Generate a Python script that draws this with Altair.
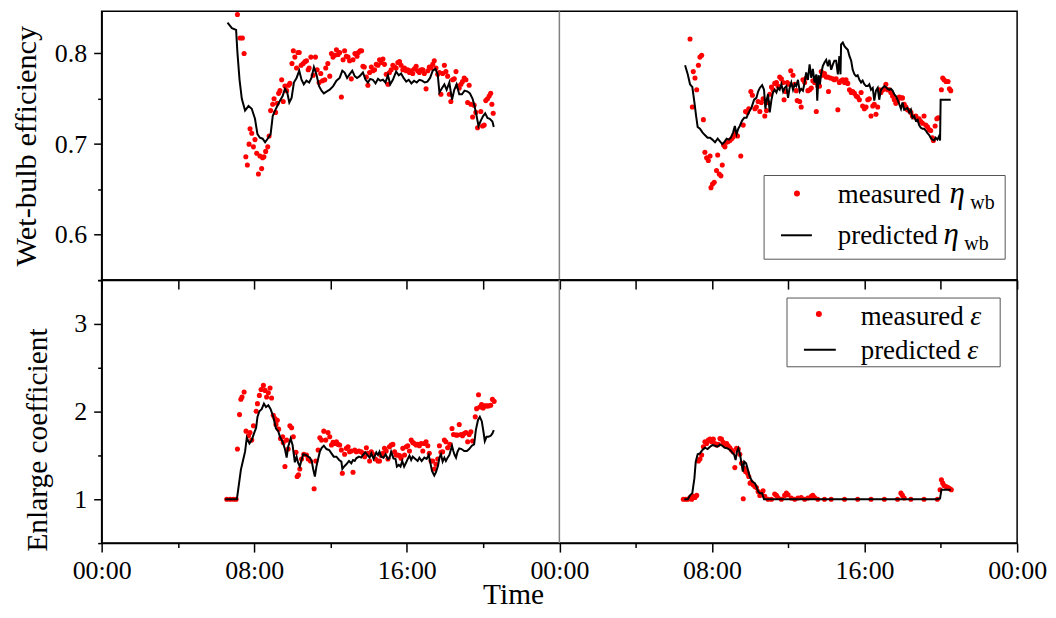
import altair as alt
import pandas as pd

FONT = "Liberation Serif"

# ---------------- data (time in hours from 00:00 of day 1) ----------------
# wet-bulb efficiency, measured, day 1
eta_meas_d1_t = [7.12, 7.26, 7.38, 7.47, 7.56, 7.64, 7.73, 7.78, 7.87, 7.96,
                 8.04, 8.13, 8.22, 8.30, 8.39, 8.44, 8.51, 8.60, 8.71, 8.78,
                 8.86, 8.97, 9.04, 9.12, 9.21, 9.28, 9.35, 9.44, 9.52, 9.61,
                 9.70, 9.80, 9.87, 9.98, 10.05, 10.13, 10.22, 10.29, 10.36, 10.46,
                 10.57, 10.66, 10.74, 10.83, 10.88, 10.97, 11.09, 11.21, 11.30, 11.40,
                 11.49, 11.58, 11.70, 11.75, 11.86, 11.96, 12.05, 12.13, 12.22, 12.31,
                 12.40, 12.48, 12.57, 12.66, 12.74, 12.83, 12.92, 13.00, 13.09, 13.18,
                 13.28, 13.39, 13.46, 13.55, 13.63, 13.70, 13.77, 13.88, 13.96, 14.05,
                 14.14, 14.22, 14.31, 14.40, 14.49, 14.57, 14.66, 14.75, 14.83, 14.92,
                 15.01, 15.09, 15.18, 15.27, 15.36, 15.44, 15.53, 15.62, 15.70, 15.79,
                 15.88, 15.97, 16.05, 16.14, 16.23, 16.31, 16.40, 16.49, 16.57, 16.66,
                 16.75, 16.84, 16.92, 17.01, 17.10, 17.18, 17.27, 17.36, 17.44, 17.53,
                 17.62, 17.71, 17.79, 17.88, 17.97, 18.05, 18.14, 18.23, 18.31, 18.40,
                 18.49, 18.58, 18.66, 18.75, 18.84, 18.92, 19.01, 19.10, 19.19, 19.27,
                 19.36, 19.45, 19.53, 19.62, 19.71, 19.88, 19.97, 20.06, 20.14, 20.23,
                 20.32, 20.40, 20.46, 20.53]
eta_meas_d1_v = [0.843, 0.817, 0.817, 0.800, 0.686, 0.677, 0.700, 0.717, 0.712, 0.697,
                 0.705, 0.690, 0.667, 0.687, 0.673, 0.685, 0.686, 0.692, 0.697, 0.709,
                 0.737, 0.744, 0.750, 0.735, 0.745, 0.756, 0.759, 0.771, 0.747, 0.764,
                 0.759, 0.765, 0.767, 0.789, 0.803, 0.796, 0.784, 0.801, 0.801, 0.787,
                 0.789, 0.791, 0.792, 0.782, 0.784, 0.796, 0.776, 0.796, 0.782, 0.768,
                 0.778, 0.770, 0.771, 0.784, 0.789, 0.775, 0.800, 0.796, 0.798, 0.804,
                 0.799, 0.801, 0.752, 0.793, 0.803, 0.797, 0.796, 0.792, 0.772, 0.793,
                 0.800, 0.797, 0.801, 0.803, 0.803, 0.786, 0.785, 0.774, 0.765, 0.779,
                 0.785, 0.781, 0.782, 0.788, 0.787, 0.793, 0.790, 0.794, 0.788, 0.777,
                 0.766, 0.779, 0.782, 0.787, 0.785, 0.784, 0.790, 0.791, 0.787, 0.782,
                 0.784, 0.781, 0.782, 0.779, 0.781, 0.778, 0.783, 0.786, 0.781, 0.779,
                 0.782, 0.782, 0.778, 0.761, 0.781, 0.785, 0.784, 0.788, 0.792, 0.784,
                 0.777, 0.779, 0.755, 0.778, 0.787, 0.780, 0.775, 0.755, 0.747, 0.771,
                 0.772, 0.780, 0.764, 0.762, 0.766, 0.769, 0.773, 0.771, 0.746, 0.765,
                 0.744, 0.730, 0.743, 0.735, 0.718, 0.736, 0.720, 0.721, 0.748, 0.750,
                 0.753, 0.756, 0.744, 0.734]

# wet-bulb efficiency, predicted, day 1
eta_pred_d1_t = [6.60, 6.83, 7.05, 7.12, 7.23, 7.35, 7.52, 7.70, 7.87, 8.04,
                 8.17, 8.30, 8.44, 8.57, 8.74, 8.86, 8.97, 9.09, 9.21, 9.35,
                 9.49, 9.61, 9.73, 9.84, 9.96, 10.08, 10.22, 10.36, 10.48, 10.60,
                 10.74, 10.88, 11.00, 11.13, 11.26, 11.40, 11.53, 11.65, 11.79, 11.96,
                 12.14, 12.31, 12.48, 12.62, 12.74, 12.87, 13.00, 13.14, 13.27, 13.39,
                 13.53, 13.70, 13.84, 13.96, 14.08, 14.22, 14.36, 14.49, 14.61, 14.75,
                 14.88, 15.01, 15.13, 15.27, 15.44, 15.58, 15.70, 15.83, 15.97, 16.10,
                 16.24, 16.38, 16.52, 16.66, 16.80, 16.94, 17.08, 17.22, 17.36, 17.50,
                 17.62, 17.71, 17.85, 17.97, 18.09, 18.23, 18.37, 18.49, 18.61, 18.75,
                 18.89, 19.03, 19.19, 19.31, 19.45, 19.55, 19.66, 19.76, 19.88, 20.00,
                 20.11, 20.23, 20.35, 20.49, 20.56]
eta_pred_d1_v = [0.834, 0.828, 0.826, 0.801, 0.771, 0.750, 0.737, 0.742, 0.739, 0.728,
                 0.711, 0.707, 0.706, 0.702, 0.707, 0.711, 0.731, 0.737, 0.742, 0.748,
                 0.753, 0.761, 0.757, 0.746, 0.751, 0.768, 0.773, 0.781, 0.771, 0.766,
                 0.770, 0.768, 0.773, 0.785, 0.777, 0.764, 0.759, 0.756, 0.758, 0.760,
                 0.764, 0.770, 0.773, 0.781, 0.779, 0.773, 0.777, 0.781, 0.775, 0.773,
                 0.775, 0.779, 0.771, 0.768, 0.772, 0.771, 0.767, 0.772, 0.770, 0.771,
                 0.768, 0.776, 0.766, 0.771, 0.780, 0.776, 0.778, 0.773, 0.769, 0.771,
                 0.767, 0.770, 0.768, 0.771, 0.770, 0.768, 0.769, 0.773, 0.781, 0.783,
                 0.777, 0.757, 0.762, 0.766, 0.760, 0.768, 0.749, 0.760, 0.766, 0.755,
                 0.755, 0.759, 0.758, 0.756, 0.750, 0.742, 0.731, 0.720, 0.726, 0.731,
                 0.734, 0.729, 0.728, 0.725, 0.719]

# wet-bulb efficiency, measured, day 2
eta_meas_d2_t = [30.85, 31.02, 31.11, 31.20, 31.29, 31.37, 31.46, 30.97, 31.55, 31.63,
                 31.72, 31.81, 31.90, 31.95, 32.03, 32.12, 32.24, 32.30, 32.38, 32.47,
                 32.54, 32.61, 32.68, 32.77, 32.85, 32.94, 33.03, 33.11, 33.24, 33.34,
                 33.51, 33.64, 33.76, 33.86, 33.93, 34.04, 34.12, 34.25, 34.33, 34.42,
                 34.51, 34.59, 34.68, 34.77, 34.86, 34.94, 35.03, 35.12, 35.20, 35.29,
                 35.38, 35.46, 35.55, 35.64, 35.73, 35.78, 35.85, 35.95, 36.02, 36.13,
                 36.25, 36.34, 36.42, 36.47, 36.60, 36.68, 36.77, 36.86, 36.94, 37.03,
                 37.12, 37.21, 37.29, 37.38, 37.47, 37.55, 37.64, 37.73, 37.81, 37.90,
                 37.99, 38.08, 38.11, 38.21, 38.34, 38.42, 38.51, 38.60, 38.68, 38.77,
                 38.86, 38.95, 39.03, 39.12, 39.21, 39.30, 39.38, 39.47, 39.56, 39.64,
                 39.73, 39.82, 39.90, 39.99, 40.08, 40.17, 40.25, 40.34, 40.43, 40.51,
                 40.60, 40.69, 40.77, 40.86, 40.95, 41.04, 41.12, 41.21, 41.30, 41.38,
                 41.47, 41.56, 41.64, 41.73, 41.82, 41.91, 41.99, 42.08, 42.17, 42.25,
                 42.34, 42.43, 42.51, 42.60, 42.69, 42.78, 42.86, 42.95, 43.04, 43.12,
                 43.21, 43.30, 43.39, 43.47, 43.56, 43.61, 43.70, 43.79, 43.86, 44.03,
                 44.10, 44.17, 44.27, 44.38, 44.45, 44.52]
eta_meas_d2_v = [0.816, 0.780, 0.773, 0.760, 0.787, 0.796, 0.798, 0.741, 0.727, 0.691,
                 0.685, 0.682, 0.687, 0.652, 0.656, 0.658, 0.671, 0.688, 0.667, 0.665,
                 0.677, 0.699, 0.697, 0.702, 0.703, 0.704, 0.706, 0.708, 0.712, 0.709,
                 0.687, 0.721, 0.736, 0.735, 0.739, 0.758, 0.754, 0.739, 0.741, 0.747,
                 0.736, 0.746, 0.750, 0.731, 0.737, 0.746, 0.755, 0.763, 0.760, 0.767,
                 0.768, 0.764, 0.774, 0.772, 0.768, 0.749, 0.758, 0.768, 0.766, 0.781,
                 0.776, 0.766, 0.759, 0.748, 0.747, 0.741, 0.771, 0.768, 0.773, 0.759,
                 0.760, 0.762, 0.770, 0.768, 0.736, 0.764, 0.764, 0.780, 0.776, 0.778,
                 0.774, 0.774, 0.758, 0.773, 0.772, 0.771, 0.772, 0.738, 0.768, 0.770,
                 0.771, 0.768, 0.771, 0.767, 0.760, 0.757, 0.758, 0.756, 0.753, 0.752,
                 0.749, 0.757, 0.742, 0.739, 0.741, 0.749, 0.750, 0.731, 0.742, 0.744,
                 0.733, 0.741, 0.760, 0.757, 0.760, 0.761, 0.766, 0.760, 0.760, 0.757,
                 0.753, 0.749, 0.745, 0.747, 0.752, 0.751, 0.751, 0.744, 0.741, 0.738,
                 0.737, 0.735, 0.731, 0.730, 0.731, 0.727, 0.728, 0.725, 0.723, 0.731,
                 0.721, 0.719, 0.716, 0.715, 0.707, 0.704, 0.720, 0.728, 0.729, 0.760,
                 0.773, 0.771, 0.769, 0.769, 0.761, 0.759]

# wet-bulb efficiency, predicted, day 2
eta_pred_d2_t = [30.59, 30.73, 30.85, 30.97, 31.08, 31.17, 31.25, 31.37, 31.50, 31.63,
                 31.77, 31.90, 32.02, 32.16, 32.30, 32.42, 32.54, 32.64, 32.77, 32.89,
                 32.99, 33.11, 33.20, 33.29, 33.38, 33.46, 33.58, 33.69, 33.81, 33.93,
                 34.07, 34.21, 34.33, 34.42, 34.51, 34.63, 34.73, 34.80, 34.87, 34.94,
                 35.03, 35.12, 35.20, 35.29, 35.38, 35.46, 35.55, 35.64, 35.73, 35.81,
                 35.90, 35.99, 36.07, 36.16, 36.25, 36.34, 36.42, 36.51, 36.60, 36.68,
                 36.77, 36.86, 36.94, 37.03, 37.12, 37.21, 37.29, 37.38, 37.47, 37.52,
                 37.59, 37.66, 37.73, 37.81, 37.90, 37.99, 38.08, 38.16, 38.25, 38.34,
                 38.42, 38.51, 38.60, 38.68, 38.74, 38.77, 38.86, 38.95, 39.03, 39.12,
                 39.21, 39.30, 39.38, 39.47, 39.56, 39.64, 39.73, 39.82, 39.90, 39.99,
                 40.08, 40.17, 40.25, 40.34, 40.43, 40.51, 40.60, 40.69, 40.77, 40.86,
                 40.95, 41.04, 41.12, 41.21, 41.30, 41.38, 41.47, 41.56, 41.64, 41.73,
                 41.82, 41.91, 41.99, 42.08, 42.17, 42.25, 42.34, 42.43, 42.51, 42.60,
                 42.69, 42.78, 42.86, 42.95, 43.04, 43.12, 43.21, 43.30, 43.39, 43.47,
                 43.56, 43.65, 43.73, 43.82, 43.91, 43.96, 43.99, 44.17, 44.34, 44.52]
eta_pred_d2_v = [0.787, 0.777, 0.766, 0.763, 0.746, 0.731, 0.719, 0.717, 0.713, 0.710,
                 0.707, 0.707, 0.705, 0.702, 0.706, 0.703, 0.700, 0.702, 0.706, 0.705,
                 0.707, 0.713, 0.720, 0.711, 0.717, 0.720, 0.726, 0.729, 0.729, 0.735,
                 0.740, 0.749, 0.751, 0.758, 0.762, 0.765, 0.760, 0.739, 0.749, 0.755,
                 0.735, 0.749, 0.757, 0.760, 0.757, 0.762, 0.760, 0.766, 0.758, 0.762,
                 0.764, 0.751, 0.762, 0.768, 0.760, 0.766, 0.764, 0.771, 0.758, 0.761,
                 0.759, 0.768, 0.779, 0.771, 0.788, 0.773, 0.783, 0.768, 0.777, 0.748,
                 0.776, 0.766, 0.778, 0.786, 0.790, 0.793, 0.786, 0.793, 0.782, 0.788,
                 0.792, 0.792, 0.777, 0.797, 0.777, 0.810, 0.812, 0.808, 0.806, 0.804,
                 0.797, 0.792, 0.782, 0.777, 0.775, 0.776, 0.771, 0.768, 0.770, 0.766,
                 0.764, 0.764, 0.766, 0.760, 0.762, 0.748, 0.759, 0.762, 0.749, 0.760,
                 0.762, 0.764, 0.763, 0.761, 0.760, 0.761, 0.759, 0.755, 0.753, 0.749,
                 0.744, 0.739, 0.746, 0.738, 0.739, 0.740, 0.735, 0.738, 0.729, 0.731,
                 0.726, 0.727, 0.721, 0.718, 0.717, 0.717, 0.715, 0.712, 0.710, 0.707,
                 0.705, 0.704, 0.707, 0.705, 0.709, 0.704, 0.749, 0.749, 0.749, 0.749]

# enlarge coefficient, measured, day 1
eps_meas_d1_t = [6.56, 6.74, 6.91, 7.05, 7.12, 7.23, 7.30, 7.36, 7.47, 7.57,
                 7.70, 7.78, 7.87, 7.96, 8.10, 8.17, 8.27, 8.36, 8.48, 8.57,
                 8.65, 8.74, 8.83, 8.91, 9.00, 9.09, 9.14, 9.21, 9.28, 9.38,
                 9.49, 9.52, 9.61, 9.70, 9.78, 9.87, 9.96, 10.05, 10.19, 10.25,
                 10.32, 10.39, 10.48, 10.60, 10.74, 10.83, 10.95, 11.14, 11.23, 11.35,
                 11.44, 11.53, 11.65, 11.75, 11.87, 11.96, 12.05, 12.13, 12.22, 12.31,
                 12.40, 12.48, 12.57, 12.62, 12.74, 12.83, 12.92, 13.00, 13.09, 13.18,
                 13.27, 13.35, 13.49, 13.61, 13.70, 13.79, 13.88, 13.96, 14.05, 14.14,
                 14.22, 14.36, 14.49, 14.57, 14.66, 14.75, 14.83, 14.92, 15.01, 15.09,
                 15.18, 15.27, 15.36, 15.44, 15.53, 15.62, 15.70, 15.79, 15.88, 15.97,
                 16.05, 16.14, 16.23, 16.31, 16.40, 16.49, 16.57, 16.66, 16.75, 16.84,
                 16.92, 17.01, 17.10, 17.18, 17.27, 17.36, 17.44, 17.53, 17.62, 17.71,
                 17.79, 17.88, 17.97, 18.05, 18.14, 18.26, 18.37, 18.45, 18.58, 18.66,
                 18.75, 18.84, 18.92, 19.01, 19.10, 19.19, 19.27, 19.36, 19.45, 19.59,
                 19.66, 19.76, 19.83, 19.92, 20.00, 20.09, 20.18, 20.28, 20.40, 20.49,
                 20.58]
eps_meas_d1_v = [1.0, 1.0, 1.0, 1.0, 1.573, 1.966, 2.140, 2.167, 2.223, 1.777,
                 1.724, 1.762, 1.675, 1.838, 2.004, 2.091, 2.185, 2.253, 2.299, 2.242,
                 2.167, 2.216, 2.269, 2.155, 1.959, 1.921, 1.853, 1.902, 1.800, 1.694,
                 1.713, 1.649, 1.373, 1.675, 1.573, 1.838, 1.815, 1.713, 1.535, 1.260,
                 1.278, 1.346, 1.460, 1.513, 1.505, 1.460, 1.437, 1.120, 1.437, 1.562,
                 1.702, 1.675, 1.777, 1.675, 1.762, 1.713, 1.619, 1.649, 1.637, 1.656,
                 1.626, 1.619, 1.562, 1.297, 1.513, 1.581, 1.600, 1.543, 1.551, 1.309,
                 1.562, 1.543, 1.551, 1.543, 1.524, 1.486, 1.588, 1.524, 1.437, 1.543,
                 1.513, 1.460, 1.437, 1.437, 1.498, 1.524, 1.581, 1.551, 1.460, 1.600,
                 1.619, 1.626, 1.543, 1.505, 1.505, 1.498, 1.467, 1.581, 1.505, 1.600,
                 1.611, 1.551, 1.675, 1.649, 1.637, 1.619, 1.626, 1.611, 1.637, 1.551,
                 1.637, 1.656, 1.611, 1.524, 1.437, 1.437, 1.346, 1.399, 1.460, 1.611,
                 1.535, 1.543, 1.675, 1.656, 1.588, 1.626, 1.808, 1.739, 1.732, 1.732,
                 1.853, 1.739, 1.724, 1.751, 1.762, 1.656, 1.739, 1.770, 1.664, 1.940,
                 2.034, 2.193, 2.053, 2.080, 2.042, 2.065, 2.065, 2.065, 2.072, 2.140,
                 2.117]

# enlarge coefficient, predicted, day 1
eps_pred_d1_t = [6.48, 7.09, 7.17, 7.30, 7.43, 7.52, 7.61, 7.75, 7.87, 7.99,
                 8.10, 8.17, 8.27, 8.39, 8.51, 8.62, 8.74, 8.86, 9.00, 9.14,
                 9.26, 9.35, 9.49, 9.61, 9.70, 9.78, 9.91, 10.01, 10.08, 10.13,
                 10.22, 10.31, 10.39, 10.48, 10.57, 10.71, 10.83, 10.92, 11.02, 11.09,
                 11.18, 11.26, 11.35, 11.44, 11.54, 11.65, 11.79, 11.93, 12.05, 12.17,
                 12.31, 12.45, 12.57, 12.62, 12.71, 12.83, 12.97, 13.09, 13.18, 13.27,
                 13.35, 13.49, 13.61, 13.70, 13.82, 13.96, 14.05, 14.14, 14.26, 14.40,
                 14.49, 14.57, 14.66, 14.78, 14.89, 15.01, 15.09, 15.18, 15.30, 15.41,
                 15.48, 15.58, 15.67, 15.76, 15.86, 15.97, 16.05, 16.14, 16.23, 16.31,
                 16.45, 16.57, 16.66, 16.78, 16.92, 17.04, 17.15, 17.24, 17.32, 17.44,
                 17.53, 17.64, 17.71, 17.79, 17.88, 17.97, 18.05, 18.14, 18.23, 18.37,
                 18.44, 18.51, 18.58, 18.66, 18.75, 18.87, 19.01, 19.15, 19.27, 19.41,
                 19.53, 19.62, 19.73, 19.83, 19.93, 20.02, 20.09, 20.18, 20.28, 20.40,
                 20.49, 20.56]
eps_pred_d1_v = [1.0, 1.0, 1.127, 1.335, 1.460, 1.543, 1.702, 1.637, 1.675, 1.751,
                 1.815, 1.940, 2.004, 2.027, 2.091, 2.053, 2.072, 2.027, 1.940, 1.808,
                 1.777, 1.713, 1.656, 1.573, 1.475, 1.600, 1.694, 1.619, 1.505, 1.422,
                 1.486, 1.411, 1.373, 1.448, 1.513, 1.505, 1.486, 1.475, 1.430, 1.346,
                 1.260, 1.373, 1.460, 1.543, 1.588, 1.611, 1.573, 1.562, 1.524, 1.486,
                 1.486, 1.448, 1.430, 1.346, 1.373, 1.399, 1.437, 1.411, 1.448, 1.437,
                 1.467, 1.486, 1.475, 1.505, 1.535, 1.498, 1.475, 1.524, 1.460, 1.535,
                 1.505, 1.543, 1.486, 1.475, 1.513, 1.460, 1.467, 1.543, 1.467, 1.460,
                 1.373, 1.392, 1.373, 1.437, 1.373, 1.422, 1.460, 1.498, 1.448, 1.486,
                 1.460, 1.437, 1.475, 1.437, 1.475, 1.460, 1.505, 1.411, 1.324, 1.271,
                 1.309, 1.384, 1.475, 1.513, 1.430, 1.475, 1.437, 1.475, 1.505, 1.611,
                 1.551, 1.505, 1.475, 1.543, 1.581, 1.573, 1.551, 1.551, 1.573, 1.611,
                 1.626, 1.789, 1.902, 1.940, 1.891, 1.770, 1.664, 1.713, 1.713, 1.724,
                 1.751, 1.789]

# enlarge coefficient, measured, day 2
eps_meas_d2_t = [30.50, 30.62, 30.73, 30.85, 30.94, 31.03, 31.11, 31.20, 31.29, 31.37,
                 31.46, 31.55, 31.63, 31.72, 31.81, 31.90, 31.98, 32.07, 32.16, 32.24,
                 32.33, 32.42, 32.50, 32.59, 32.68, 32.77, 32.85, 32.94, 33.03, 33.11,
                 33.20, 33.29, 33.38, 33.46, 33.55, 33.64, 33.69, 33.76, 33.86, 33.93,
                 34.00, 34.07, 34.16, 34.25, 34.33, 34.42, 34.51, 34.59, 34.68, 34.77,
                 34.94, 35.12, 35.29, 35.38, 35.46, 35.64, 35.81, 35.90, 35.99, 36.16,
                 36.34, 36.51, 36.68, 36.86, 37.03, 37.21, 37.29, 37.38, 37.55, 37.90,
                 38.25, 38.95, 39.64, 40.34, 41.04, 41.73, 41.91, 41.99, 42.08, 42.43,
                 43.12, 43.82, 43.96, 44.03, 44.10, 44.17, 44.27, 44.38, 44.48, 44.55]
eps_meas_d2_v = [1.0, 1.0, 1.0, 1.021, 1.0, 1.033, 1.021, 1.044, 1.437, 1.460,
                 1.505, 1.600, 1.656, 1.637, 1.675, 1.686, 1.656, 1.686, 1.637, 1.618,
                 1.626, 1.694, 1.686, 1.649, 1.611, 1.637, 1.611, 1.588, 1.562, 1.543,
                 1.361, 1.581, 1.573, 1.513, 1.411, 1.006, 1.354, 1.316, 1.297, 1.259,
                 1.184, 1.195, 1.165, 1.146, 1.135, 1.089, 1.044, 1.070, 1.097, 1.033,
                 1.0, 1.0, 1.059, 1.044, 1.021, 1.0, 1.044, 1.070, 1.052, 1.014,
                 1.0, 1.014, 1.021, 1.0, 1.014, 1.033, 1.044, 1.021, 1.0, 1.0,
                 1.0, 1.0, 1.0, 1.0, 1.0, 1.0, 1.070, 1.044, 1.014, 1.0,
                 1.0, 1.0, 1.108, 1.222, 1.184, 1.157, 1.146, 1.135, 1.120, 1.108]

# enlarge coefficient, predicted, day 2
eps_pred_d2_t = [30.55, 30.73, 30.85, 30.97, 31.08, 31.15, 31.25, 31.37, 31.50, 31.63,
                 31.77, 31.90, 32.02, 32.16, 32.30, 32.42, 32.54, 32.68, 32.82, 32.94,
                 33.06, 33.17, 33.24, 33.31, 33.38, 33.46, 33.55, 33.62, 33.69, 33.79,
                 33.90, 33.98, 34.11, 34.25, 34.33, 34.42, 34.51, 34.63, 34.73, 34.85,
                 43.82, 43.96, 44.03, 44.26, 44.52]
eps_pred_d2_v = [1.0, 1.0, 1.044, 1.070, 1.241, 1.430, 1.513, 1.524, 1.562, 1.588,
                 1.573, 1.600, 1.618, 1.611, 1.600, 1.626, 1.611, 1.588, 1.581, 1.562,
                 1.535, 1.505, 1.448, 1.543, 1.581, 1.524, 1.411, 1.316, 1.430, 1.411,
                 1.324, 1.259, 1.203, 1.184, 1.146, 1.089, 1.070, 1.070, 1.0, 1.0,
                 1.0, 1.01, 1.108, 1.108, 1.108]

x_tick_values = [0, 4, 8, 12, 16, 20, 24, 28, 32, 36, 40, 44, 48]
eta_tick_values = [0.55, 0.6, 0.65, 0.7, 0.75, 0.8]
eps_tick_values = [0.5, 1, 1.5, 2, 2.5, 3, 3.5]
day_boundary = [24]


def frame(t, v, day):
    return pd.DataFrame({"t": t, "v": v, "day": day})


eta_meas = pd.concat([frame(eta_meas_d1_t, eta_meas_d1_v, 1), frame(eta_meas_d2_t, eta_meas_d2_v, 2)])
eta_pred = pd.concat([frame(eta_pred_d1_t, eta_pred_d1_v, 1), frame(eta_pred_d2_t, eta_pred_d2_v, 2)])
eps_meas = pd.concat([frame(eps_meas_d1_t, eps_meas_d1_v, 1), frame(eps_meas_d2_t, eps_meas_d2_v, 2)])
eps_pred = pd.concat([frame(eps_pred_d1_t, eps_pred_d1_v, 1), frame(eps_pred_d2_t, eps_pred_d2_v, 2)])
boundary_df = pd.DataFrame({"t": day_boundary})
one = pd.DataFrame({"k": [0]})

W = 919
H_TOP = 270
H_BOT = 264
TITLE_SIZE = 29.5

# ---------------- axes ----------------
x_scale = alt.Scale(domain=[0, 48], nice=False, zero=False)
top_x_axis = alt.Axis(values=x_tick_values, labels=False, title=None, tickSize=9)
bot_x_axis = alt.Axis(
    values=x_tick_values,
    labelExpr="datum.value % 8 == 0 ? ((datum.value % 24) < 10 ? '0' : '') + (datum.value % 24) + ':00' : ''",
    tickSize={"condition": {"test": "datum.value % 8 == 0", "value": 9}, "value": 4.5},
    labelPadding=6, labelFlush=False, labelOverlap=False,
    title="Time", titleX=413, titleY=60.5, titleAlign="center",
    titleBaseline="alphabetic",
)
eta_major = "abs(datum.value * 10 - round(datum.value * 10)) < 0.001"
eta_axis = alt.Axis(
    values=eta_tick_values,
    labelExpr=eta_major + " ? format(datum.value, '.1f') : ''",
    tickSize={"condition": {"test": eta_major, "value": 8}, "value": 4},
    labelPadding=7, labelOverlap=False,
    title="Wet-bulb efficiency", titleX=-75, titleY=135, titleAlign="center",
    titleBaseline="middle", titleAngle=270, titleFontSize=30.5,
)
eps_major = "datum.value % 1 == 0"
eps_axis = alt.Axis(
    values=eps_tick_values,
    labelExpr=eps_major + " ? format(datum.value, 'd') : ''",
    tickSize={"condition": {"test": eps_major, "value": 8}, "value": 4},
    labelPadding=7, labelOverlap=False,
    title="Enlarge coefficient", titleX=-64, titleY=160, titleAlign="center",
    titleBaseline="middle", titleAngle=270,
)


# ---------------- legend helpers ----------------
def box(x1, x2, y1, y2):
    return alt.Chart(one).mark_rect(fill="white", stroke="#555555", strokeWidth=1).encode(
        x=alt.value(x1), x2=alt.value(x2), y=alt.value(y1), y2=alt.value(y2))


def dot(x, y):
    return alt.Chart(one).mark_circle(size=36, color="#ff0000", opacity=1).encode(
        x=alt.value(x), y=alt.value(y))


def dash(x1, x2, y):
    return alt.Chart(one).mark_rule(color="black", strokeWidth=2).encode(
        x=alt.value(x1), x2=alt.value(x2), y=alt.value(y))


def label(txt, x, y, size=27, style="normal"):
    return alt.Chart(one).mark_text(text=txt, font=FONT, fontSize=size, fontStyle=style,
                                    align="left", baseline="alphabetic", color="black").encode(
        x=alt.value(x), y=alt.value(y))


def panel(meas, pred, y_domain, y_axis, x_axis, height, legend):
    x = alt.X("t:Q", scale=x_scale, axis=x_axis)
    y = alt.Y("v:Q", scale=alt.Scale(domain=y_domain, nice=False, zero=False), axis=y_axis)
    dots = alt.Chart(meas).mark_circle(size=26, color="#ff0000", opacity=1).encode(x=x, y=y)
    line = alt.Chart(pred).mark_line(color="black", strokeWidth=2).encode(x=x, y=y, detail="day:N")
    rule = alt.Chart(boundary_df).mark_rule(color="#808080", strokeWidth=1.5).encode(x=alt.X("t:Q", scale=x_scale))
    return alt.layer(dots, line, rule, *legend).properties(width=W, height=height)


top_legend = [
    box(665, 907, 165, 249),
    dot(698, 183),
    label("measured", 739, 193),
    label("η", 851, 193, size=31, style="italic"),
    label("wb", 872, 199, size=20),
    dash(682, 713, 225),
    label("predicted", 739, 234),
    label("η", 845, 234, size=31, style="italic"),
    label("wb", 866, 240, size=20),
]
bot_legend = [
    box(688, 902, 18, 87),
    dot(720, 34),
    label("measured", 762, 45),
    label("ε", 872, 45, size=28, style="italic"),
    dash(705, 737, 70),
    label("predicted", 762, 79),
    label("ε", 869, 79, size=28, style="italic"),
]

top = panel(eta_meas, eta_pred, [0.55, 0.8467], eta_axis, top_x_axis, H_TOP, top_legend)
bottom = panel(eps_meas, eps_pred, [0.5, 3.5], eps_axis, bot_x_axis, H_BOT, bot_legend)

chart = (
    alt.vconcat(top, bottom, spacing=0, bounds="flush")
    .resolve_scale(y="independent")
    .properties(padding={"left": 3, "top": 0, "right": 0, "bottom": 0})
    .configure(font=FONT)
    .configure_view(stroke="black", strokeWidth=1.5)
    .configure_axis(
        grid=False,
        domainColor="black", domainWidth=1.5,
        tickColor="black", tickWidth=1.5,
        labelColor="black", labelFont=FONT, labelFontSize=26,
        titleColor="black", titleFont=FONT, titleFontSize=TITLE_SIZE, titleFontWeight="normal",
    )
)

chart.save("out.html", embed_options={"renderer": "svg", "actions": False})
